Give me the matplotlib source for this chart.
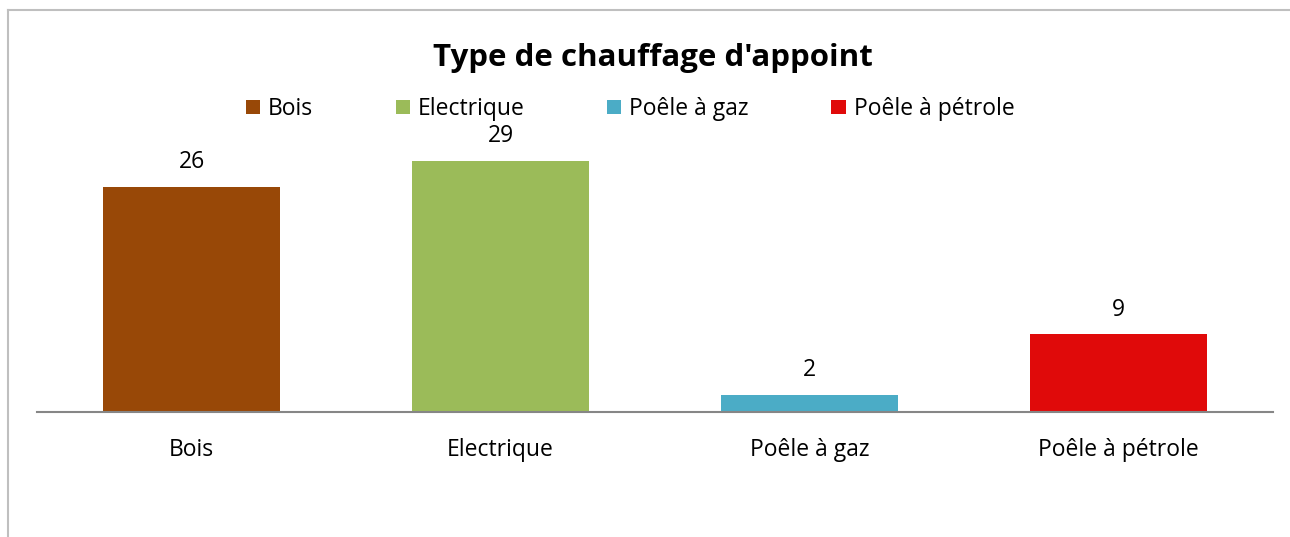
import matplotlib.pyplot as plt
from matplotlib.patches import Patch
from matplotlib.lines import Line2D

categories = ["Bois", "Electrique", "Poêle à gaz", "Poêle à pétrole"]
values = [26, 29, 2, 9]
colors = ["#984807", "#9BBB59", "#4BACC6", "#E00A0A"]

plt.rcParams['font.family'] = ['Open Sans', 'DejaVu Sans']

fig = plt.figure(figsize=(12.9, 5.37), dpi=100)
W, H = 1290, 537
ax = fig.add_axes([37 / W, (H - 412) / H, (1273 - 37) / W, (412 - 109) / H])

x = range(len(categories))
bars = ax.bar(x, values, width=0.574, color=colors)
for xi, v in zip(x, values):
    ax.annotate(str(v), (xi, v), xytext=(0, 9), textcoords='offset points',
                ha='center', va='bottom', fontsize=16.5)

ax.set_xlim(-0.5, 3.5)
ax.set_ylim(0, 35)
ax.set_yticks([])
ax.set_xticks(list(x))
ax.set_xticklabels(categories, fontsize=16.5)
ax.tick_params(axis='x', length=0, pad=19)
for s in ['top', 'right', 'left']:
    ax.spines[s].set_visible(False)
ax.spines['bottom'].set_color('#868686')
ax.spines['bottom'].set_linewidth(1.5)

# chart border (top and left visible)
fig.add_artist(Line2D([8 / W, 8 / W], [0, (H - 10) / H], color='#BFBFBF', lw=1.5))
fig.add_artist(Line2D([8 / W, 1], [(H - 10) / H, (H - 10) / H], color='#BFBFBF', lw=1.5))

fig.text(653 / W, (H - 58) / H, "Type de chauffage d'appoint", ha='center', va='center',
         fontsize=22.5, fontweight='bold')

handles = [Patch(facecolor=c, label=l) for c, l in zip(colors, categories)]
fig.legend(handles=handles, loc='center', bbox_to_anchor=(630 / W, (H - 109) / H),
           ncol=4, frameon=False, fontsize=16.5, handlelength=0.62, handleheight=0.62,
           handletextpad=0.35, columnspacing=3.6)

fig.savefig('out.png', dpi=100)
